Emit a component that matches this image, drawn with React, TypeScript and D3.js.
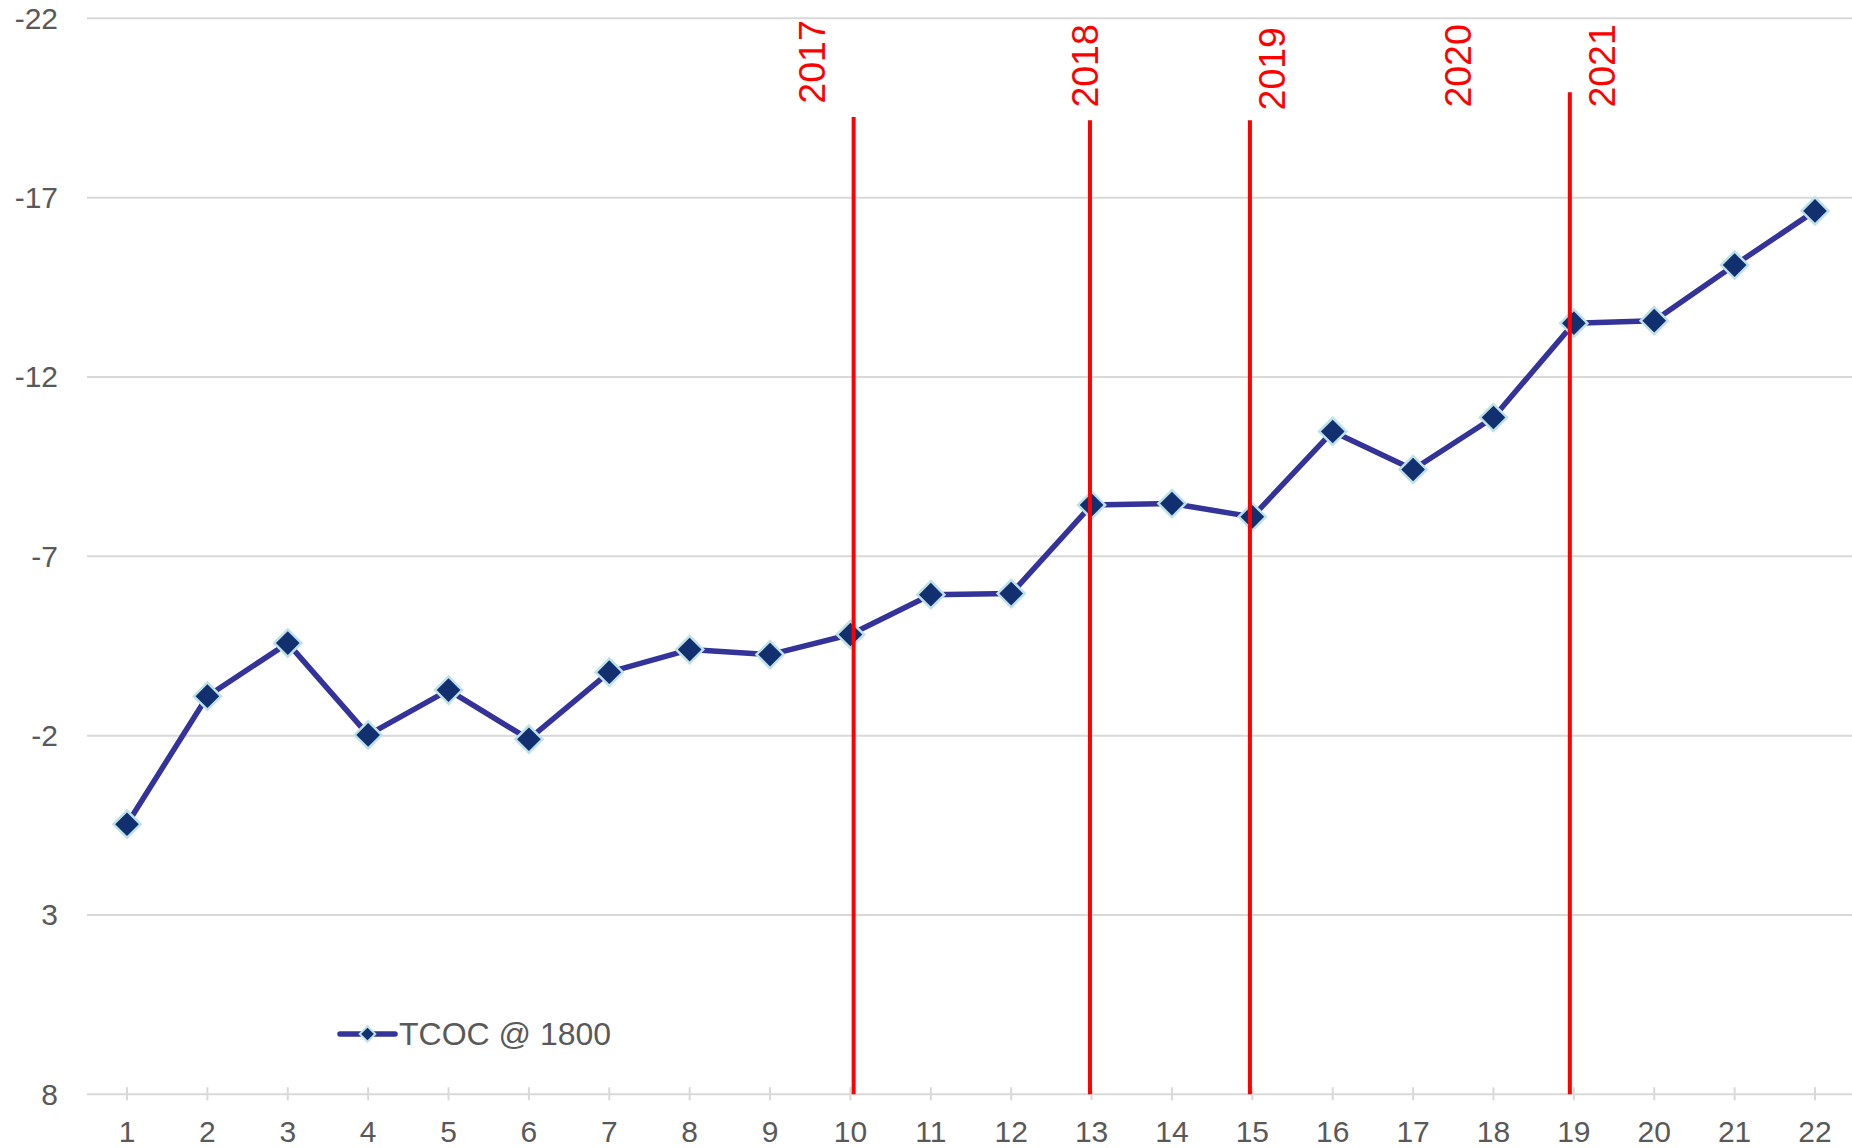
import React, { useEffect } from 'react'
import * as d3 from 'd3'

// categories along the bottom
const periods = [1, 2, 3, 4, 5, 6, 7, 8, 9, 10, 11, 12, 13, 14, 15, 16, 17, 18, 19, 20, 21, 22]
// TCOC @ 1800 values (y axis runs reversed)
const tcoc = [0.47, -3.1, -4.58, -2.02, -3.27, -1.9, -3.77, -4.4, -4.26, -4.82, -5.93, -5.96,
  -8.43, -8.47, -8.1, -10.48, -9.42, -10.87, -13.5, -13.57, -15.12, -16.63]
const yTicks = [-22, -17, -12, -7, -2, 3, 8]

// year markers: where the red line sits, how high it reaches, where the label sits
const years = ['2017', '2018', '2019', '2020', '2021']
const yearLineAt = [10.04, 12.98, 14.97, null, 18.95]
const yearLineTop = [-19.25, -19.16, -19.16, null, -19.94]
const yearLabelAt = [9.52, 12.92, 15.24, 17.56, 19.35]
const yearLabelBottom = [-19.62, -19.51, -19.43, -19.51, -19.51]

const seriesName = 'TCOC @ 1800'

const W = 1852
const H = 1148
const font = '"Liberation Sans", Arial, sans-serif'

export default function App() {
  useEffect(() => {
    document.body.style.margin = '0'
  }, [])

  const x = d3.scaleLinear().domain([1, 22]).range([127, 1815])
  const y = d3.scaleLinear().domain([-22, 8]).range([18.3, 1094.3])

  const line = d3.line<number>()
    .x((d, i) => x(periods[i]))
    .y(d => y(d))

  const diamond = d3.symbol().type(d3.symbolSquare).size(370)()

  return (
    <svg width={W} height={H} style={{ display: 'block' }} fontFamily={font}>
      {yTicks.map(t => (
        <g key={t}>
          <line x1={87} x2={W} y1={y(t)} y2={y(t)} stroke="#d9d9d9" strokeWidth={2} />
          <text x={58} y={y(t)} textAnchor="end" dominantBaseline="central" fontSize={30} fill="#595959">{t}</text>
        </g>
      ))}
      {periods.map(p => (
        <g key={p}>
          <line x1={x(p)} x2={x(p)} y1={y(8) - 7} y2={y(8) + 6} stroke="#d9d9d9" strokeWidth={2} />
          <text x={x(p)} y={1142} textAnchor="middle" fontSize={30} fill="#595959">{p}</text>
        </g>
      ))}

      <path d={line(tcoc) || ''} fill="none" stroke="#333399" strokeWidth={5.5} strokeLinejoin="round" />
      {tcoc.map((v, i) => (
        <path key={i} d={diamond || ''} transform={`translate(${x(periods[i])},${y(v)}) rotate(45)`}
          fill="#122f70" stroke="#bde2e8" strokeWidth={2.5} />
      ))}

      {years.map((yr, i) => (
        <g key={yr}>
          {yearLineAt[i] !== null && (
            <line x1={x(yearLineAt[i] as number)} x2={x(yearLineAt[i] as number)}
              y1={y(yearLineTop[i] as number)} y2={y(8)} stroke="#ff0000" strokeWidth={4} />
          )}
          <text transform={`translate(${x(yearLabelAt[i])},${y(yearLabelBottom[i])}) rotate(-90)`}
            dominantBaseline="central" fontSize={37.5} fill="#ff0000">{yr}</text>
        </g>
      ))}

      <g transform="translate(340,1034)">
        <line x1={0} x2={55} y1={0} y2={0} stroke="#333399" strokeWidth={5.5} strokeLinecap="round" />
        <path d={d3.symbol().type(d3.symbolSquare).size(120)() || ''} transform="translate(27.5,0) rotate(45)"
          fill="#122f70" stroke="#bde2e8" strokeWidth={2} />
        <text x={59} y={0} dominantBaseline="central" fontSize={32} fill="#595959">{seriesName}</text>
      </g>
    </svg>
  )
}
